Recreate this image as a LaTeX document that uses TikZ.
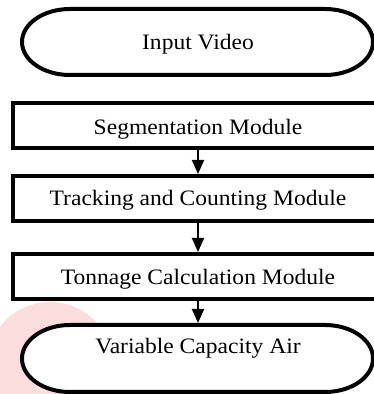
\documentclass[tikz,border=0pt]{standalone}
\usepackage{fontspec}
\setmainfont{Liberation Serif}
\usetikzlibrary{arrows.meta}
\definecolor{wm}{RGB}{252,221,221}
\begin{document}
\begin{tikzpicture}[x=1pt,y=1pt,
  box/.style={draw=black, line width=4pt, fill=white, minimum width=370pt, minimum height=45pt, inner sep=0pt},
  lbl/.style={anchor=base, inner sep=0pt, font=\fontsize{22}{26}\selectfont},
  flow/.style={line width=2pt, -{Triangle[width=12pt,length=14pt]}},
  term/.style={line width=4pt, draw=black, fill=white}]
\useasboundingbox (0,0) rectangle (374,394);
% watermark blob
\fill[wm] (50,29) circle (63);
% terminal: input
\draw[term] (70,385) -- (325,385) arc[start angle=90,end angle=-90,x radius=48,y radius=33] -- (70,319) arc[start angle=270,end angle=90,x radius=48,y radius=33] -- cycle;
\node[lbl] (in) at (198,344) {\scalebox{1.07}[1]{Input Video}};
% boxes
\node[box] (seg) at (198,268.5) {};
\node[box] (trk) at (198,195.5) {};
\node[box] (ton) at (198,117.5) {};
\begin{scope}
\clip (15,255) rectangle (381,289);
\node[lbl] (segt) at (198,259) {\scalebox{1.07}[1]{Segmentation Module}};
\end{scope}
\begin{scope}
\clip (15,184) rectangle (381,216);
\node[lbl] (trkt) at (198,188) {\scalebox{1.07}[1]{Tracking and Counting Module}};
\end{scope}
\begin{scope}
\clip (15,105) rectangle (381,138);
\node[lbl] (tont) at (198,109) {\scalebox{1.07}[1]{Tonnage Calculation Module}};
\end{scope}
% terminal: output
\draw[term] (70,69) -- (325,69) arc[start angle=90,end angle=-90,x radius=48,y radius=33.5] -- (70,2) arc[start angle=270,end angle=90,x radius=48,y radius=33.5] -- cycle;
\coordinate (out) at (198,71);
\node[lbl] (outt) at (198,41) {\scalebox{1.07}[1]{Variable Capacity Air}};
% connectors
\draw[flow] (seg.south) -- (trk.north);
\draw[flow] (trk.south) -- (ton.north);
\draw[flow] (ton.south) -- (out);
\end{tikzpicture}
\end{document}
